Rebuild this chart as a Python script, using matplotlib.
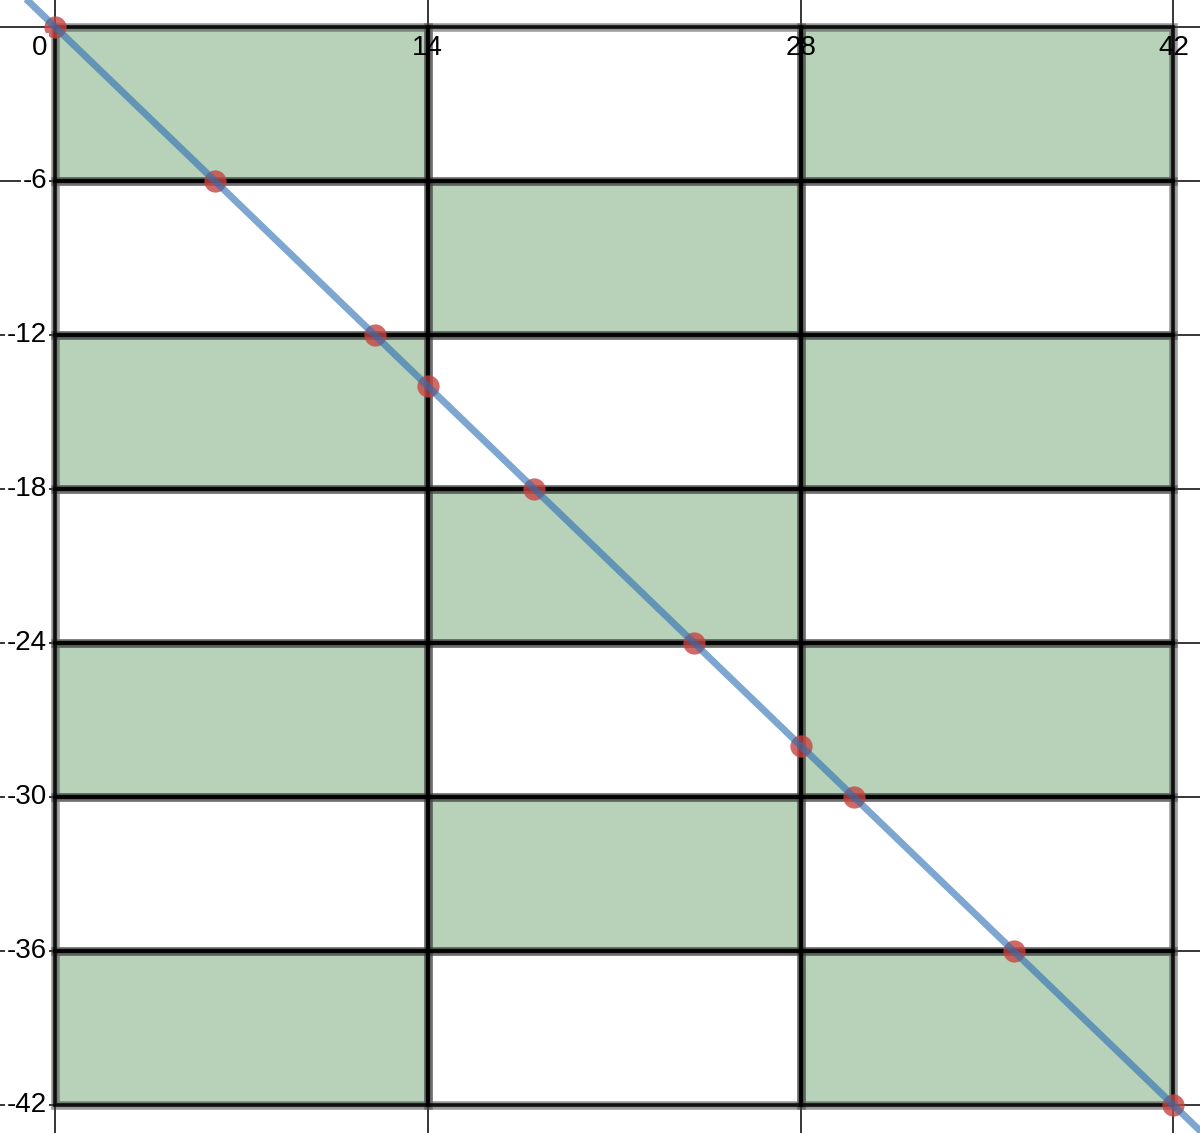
import matplotlib
matplotlib.use("Agg")
import matplotlib.pyplot as plt
from matplotlib.patches import Rectangle

# grid of cells (14 wide, 6 tall)
col_edges = [0, 14, 28, 42]
row_edges = [0, -6, -12, -18, -24, -30, -36, -42]
# (column, row) of the green cells
green_cells = [(0, 0), (2, 0), (1, 1), (0, 2), (2, 2), (1, 3),
               (0, 4), (2, 4), (1, 5), (0, 6), (2, 6)]

# line y = -x and where it crosses the grid lines
line_x = [-3, 44]
line_y = [3, -44]
point_x = [0, 6, 12, 14, 18, 24, 28, 30, 36, 42]
point_y = [0, -6, -12, -14, -18, -24, -28, -30, -36, -42]

x_ticks = [0, 14, 28, 42]
y_ticks = [-6, -12, -18, -24, -30, -36, -42]

plt.rcParams['font.family'] = ['Liberation Sans', 'DejaVu Sans']

fig = plt.figure(figsize=(12, 11.33), dpi=100)
ax = fig.add_axes([0, 0, 1, 1])
ax.set_xlim(-2.07, 43.0)
ax.set_ylim(-43.09, 1.05)
ax.axis('off')

# thin lines across the whole view
for x in x_ticks:
    ax.axvline(x, color='black', lw=1.1, zorder=2)
for y in row_edges:
    ax.axhline(y, color='black', lw=1.1, zorder=2)

# cells
for i in range(len(col_edges) - 1):
    for j in range(len(row_edges) - 1):
        x0 = col_edges[i]
        w = col_edges[i + 1] - col_edges[i]
        y0 = row_edges[j + 1]
        h = row_edges[j] - row_edges[j + 1]
        if (i, j) in green_cells:
            ax.add_patch(Rectangle((x0, y0), w, h, facecolor='#b8d1b9',
                                   edgecolor='none', zorder=1))
        # border: grey halo + dark core
        ax.add_patch(Rectangle((x0, y0), w, h, fill=False,
                               edgecolor=(0.25, 0.25, 0.25, 0.5), lw=6.2,
                               zorder=2.5))
        ax.add_patch(Rectangle((x0, y0), w, h, fill=False,
                               edgecolor=(0, 0, 0, 0.75), lw=3.0,
                               zorder=2.6))

ax.plot(point_x, point_y, 'o', color='#c74440', alpha=0.8, ms=16,
        mec='none', zorder=3)
ax.plot(line_x, line_y, color='#2d70b3', alpha=0.62, lw=5,
        solid_capstyle='butt', zorder=4)

box = dict(facecolor='white', edgecolor='none', pad=1.5)
for x in x_ticks:
    if x == 0:
        ax.text(x - 0.3, -0.3, '0', ha='right', va='top', fontsize=20,
                bbox=box, zorder=5)
    else:
        ax.text(x, -0.3, str(x), ha='center', va='top', fontsize=20,
                zorder=5)
for y in y_ticks:
    ax.text(-0.3, y, '-' + str(-y), ha='right', va='center', fontsize=20,
            bbox=box, zorder=5)

fig.savefig('out.png', dpi=100)
